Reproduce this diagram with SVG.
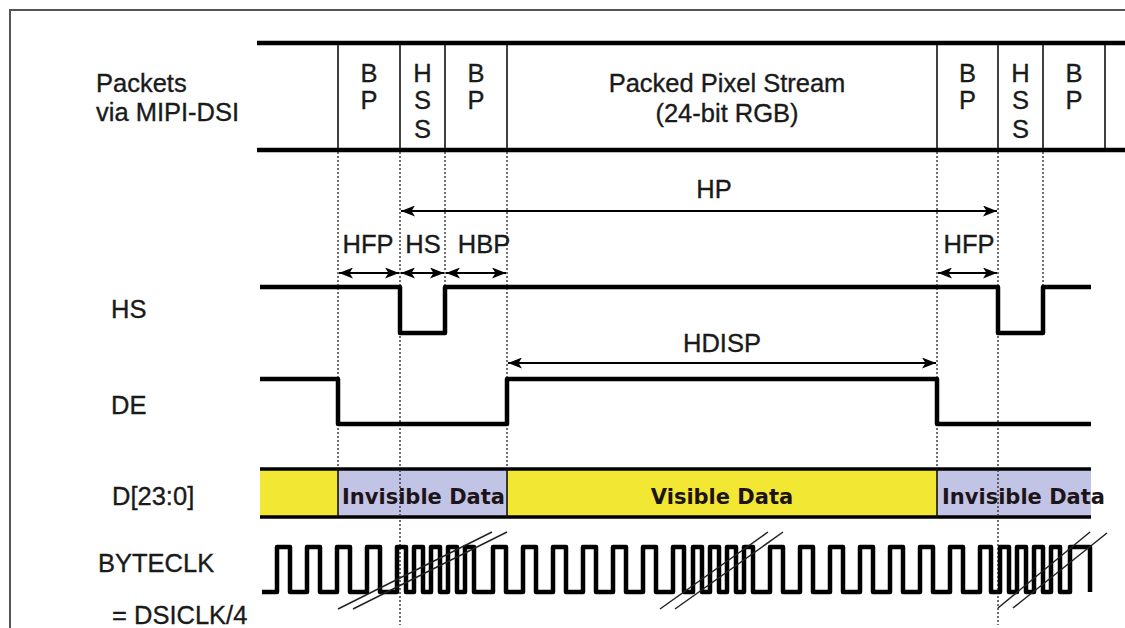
<svg xmlns="http://www.w3.org/2000/svg" width="1125" height="628" viewBox="0 0 1125 628">
<style>
.t{font-family:"Liberation Sans",Arial,sans-serif;font-size:25.5px;fill:#1a1a1a;stroke:#1a1a1a;stroke-width:0.35}
.c{text-anchor:middle}
.b{font-family:"DejaVu Sans","Liberation Sans",sans-serif;font-weight:bold;font-size:21px;fill:#1c1418}
.thick{stroke:#000;stroke-width:4.5;fill:none}
.sep{stroke:#111;stroke-width:1.6}
.wave{stroke:#000;stroke-width:4.5;fill:none;stroke-linejoin:round}
.dot{stroke:#333;stroke-width:1.4;stroke-dasharray:2 2;fill:none}
.arr{stroke:#000;stroke-width:2.2;fill:none}
.slash{stroke:#222;stroke-width:1.5}
</style>
<defs>
<marker id="ah" viewBox="0 0 14 11" refX="14" refY="5.5" markerWidth="14" markerHeight="11" markerUnits="userSpaceOnUse" orient="auto-start-reverse">
<path d="M0,0 L14,5.5 L0,11 L3.5,5.5 Z" fill="#000"/>
</marker>
</defs>
<rect width="1125" height="628" fill="#fff"/>
<g id="frame">
<path d="M10,628 V10 H1125" stroke="#555" stroke-width="2" fill="none"/>
</g>
<g id="labels">
<text class="t" x="96" y="92">Packets</text>
<text class="t" x="96" y="121">via MIPI-DSI</text>
<text class="t" x="111" y="318">HS</text>
<text class="t" x="111" y="414">DE</text>
<text class="t" x="112" y="505">D[23:0]</text>
<text class="t" x="98" y="572">BYTECLK</text>
<text class="t" x="112" y="624">= DSICLK/4</text>
</g>
<g id="packets">
<line class="thick" x1="257" y1="43" x2="1125" y2="43"/>
<line class="thick" x1="257" y1="150" x2="1125" y2="150"/>
<g>
<line class="sep" x1="338" y1="45" x2="338" y2="148"/>
<line class="sep" x1="400" y1="45" x2="400" y2="148"/>
<line class="sep" x1="445" y1="45" x2="445" y2="148"/>
<line class="sep" x1="507" y1="45" x2="507" y2="148"/>
<line class="sep" x1="937" y1="45" x2="937" y2="148"/>
<line class="sep" x1="998" y1="45" x2="998" y2="148"/>
<line class="sep" x1="1043" y1="45" x2="1043" y2="148"/>
<line class="sep" x1="1105" y1="45" x2="1105" y2="148"/>
</g>
<g id="bp1"><text class="t c" x="369" y="82">B</text><text class="t c" x="369" y="109">P</text></g>
<g id="hss1"><text class="t c" x="422.5" y="82">H</text><text class="t c" x="422.5" y="109">S</text><text class="t c" x="422.5" y="138">S</text></g>
<g id="bp2"><text class="t c" x="476" y="82">B</text><text class="t c" x="476" y="109">P</text></g>
<g id="pps"><text class="t c" x="727" y="92">Packed Pixel Stream</text><text class="t c" x="727" y="122">(24-bit RGB)</text></g>
<g id="bp3"><text class="t c" x="967.5" y="82">B</text><text class="t c" x="967.5" y="109">P</text></g>
<g id="hss2"><text class="t c" x="1020.5" y="82">H</text><text class="t c" x="1020.5" y="109">S</text><text class="t c" x="1020.5" y="138">S</text></g>
<g id="bp4"><text class="t c" x="1074" y="82">B</text><text class="t c" x="1074" y="109">P</text></g>
</g>
<g id="guides">
<line class="dot" x1="338" y1="152" x2="338" y2="469"/>
<line class="dot" x1="400" y1="152" x2="400" y2="625"/>
<line class="dot" x1="445" y1="152" x2="445" y2="287"/>
<line class="dot" x1="507" y1="152" x2="507" y2="469"/>
<line class="dot" x1="937" y1="152" x2="937" y2="469"/>
<line class="dot" x1="998" y1="152" x2="998" y2="625"/>
<line class="dot" x1="1043" y1="152" x2="1043" y2="287"/>
</g>
<g id="hs-wave">
<path class="wave" d="M260,287 H400 V333 H445 V287 H998 V333 H1043 V287 H1091"/>
</g>
<g id="de-wave">
<path class="wave" d="M260,379 H338 V424 H507 V379 H937 V424 H1091"/>
</g>
<g id="data-bus">
<rect x="260" y="469" width="78" height="48" fill="#f2e833"/>
<rect x="338" y="469" width="169" height="48" fill="#c2c4e6"/>
<rect x="507" y="469" width="430" height="48" fill="#f2e833"/>
<rect x="937" y="469" width="154" height="48" fill="#c2c4e6"/>
<line x1="260" y1="469" x2="1091" y2="469" stroke="#000" stroke-width="3.5"/>
<line x1="260" y1="517" x2="1091" y2="517" stroke="#000" stroke-width="3.5"/>
<line class="sep" x1="338" y1="469" x2="338" y2="517"/>
<line class="sep" x1="507" y1="469" x2="507" y2="517"/>
<line class="sep" x1="937" y1="469" x2="937" y2="517"/>
<line class="dot" x1="400" y1="470" x2="400" y2="516"/>
<line class="dot" x1="998" y1="470" x2="998" y2="516"/>
<text class="b" x="342" y="504">Invisible Data</text>
<text class="b" x="722" y="504" text-anchor="middle">Visible Data</text>
<text class="b" x="942" y="504">Invisible Data</text>
</g>
<g id="byteclk">
<path class="wave" d="M262,592 H277 V547 H290 V592 H307 V547 H320 V592 H337 V547 H350 V592 H367 V547 H380 V592 H397 V547 H406 V592 H414 V547 H423 V592 H431 V547 H440 V592 H448 V547 H457 V592 H465 V547 H474 V592 H493 V547 H506 V592 H523 V547 H536 V592 H553 V547 H566 V592 H583 V547 H596 V592 H613 V547 H626 V592 H643 V547 H656 V592 H673 V547 H684 V592 H693 V547 H702 V592 H710 V547 H719 V592 H727 V547 H736 V592 H744 V547 H753 V592 H770 V547 H783 V592 H800 V547 H813 V592 H830 V547 H843 V592 H860 V547 H873 V592 H890 V547 H903 V592 H920 V547 H933 V592 H950 V547 H963 V592 H980 V547 H991 V592 H1000 V547 H1009 V592 H1017 V547 H1026 V592 H1034 V547 H1043 V592 H1051 V547 H1060 V592 H1070 V547 H1090 V592"/>
<line class="slash" x1="338" y1="609" x2="492" y2="532"/>
<line class="slash" x1="353" y1="609" x2="507" y2="532"/>
<line class="slash" x1="660" y1="609" x2="768" y2="532"/>
<line class="slash" x1="675" y1="609" x2="783" y2="532"/>
<line class="slash" x1="998" y1="608" x2="1090" y2="532"/>
<line class="slash" x1="1013" y1="608" x2="1107" y2="533"/>
</g>
<g id="connectors">
<line class="arr" x1="401" y1="211" x2="997" y2="211" marker-start="url(#ah)" marker-end="url(#ah)"/>
<line class="arr" x1="339" y1="273" x2="399" y2="273" marker-start="url(#ah)" marker-end="url(#ah)"/>
<line class="arr" x1="401" y1="273" x2="444" y2="273" marker-start="url(#ah)" marker-end="url(#ah)"/>
<line class="arr" x1="446" y1="273" x2="506" y2="273" marker-start="url(#ah)" marker-end="url(#ah)"/>
<line class="arr" x1="938" y1="273" x2="997" y2="273" marker-start="url(#ah)" marker-end="url(#ah)"/>
<line class="arr" x1="508" y1="363" x2="936" y2="363" marker-start="url(#ah)" marker-end="url(#ah)"/>
<text class="t c" x="714" y="198">HP</text>
<text class="t c" x="368" y="253">HFP</text>
<text class="t c" x="423" y="253">HS</text>
<text class="t c" x="484" y="253">HBP</text>
<text class="t c" x="969" y="253">HFP</text>
<text class="t c" x="722" y="352">HDISP</text>
</g>
</svg>
